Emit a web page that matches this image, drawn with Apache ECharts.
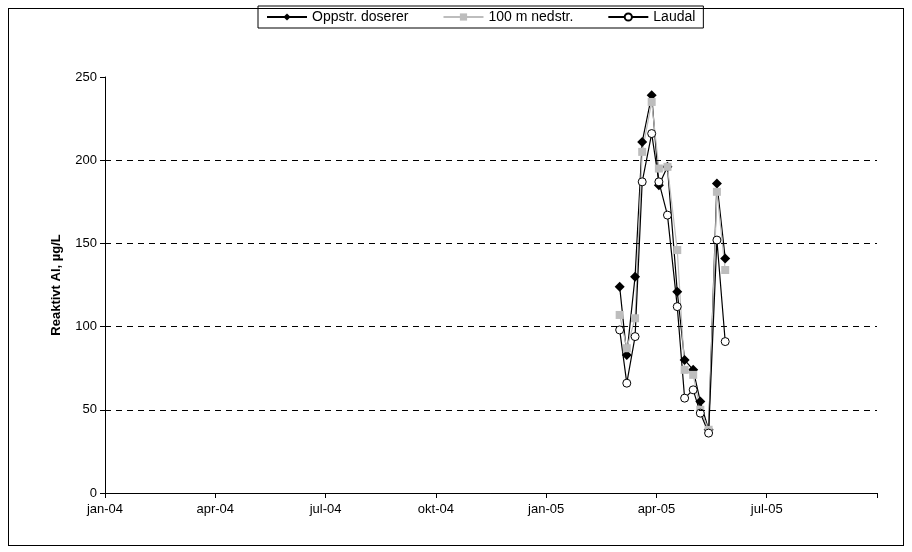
<!DOCTYPE html>
<html>
<head>
<meta charset="utf-8">
<script src="https://cdn.jsdelivr.net/npm/echarts@6/dist/echarts.min.js"></script>
<style>
  html, body { margin: 0; padding: 0; background: #fff; }
  #frame { position: absolute; left: 8px; top: 8px; width: 894px; height: 536px; border: 1px solid #000; }
  #chart { width: 912px; height: 552px; }
</style>
</head>
<body>
<div id="frame"></div>
<div id="chart"></div>
<script>
// prøvedatoer
const dates = ["2005-03-01", "2005-03-07", "2005-03-14", "2005-03-20", "2005-03-28", "2005-04-03",
  "2005-04-10", "2005-04-18", "2005-04-24", "2005-05-01", "2005-05-07", "2005-05-14", "2005-05-21", "2005-05-28"];
const oppstr = [124, 83, 130, 211, 239, 185, 196, 121, 80, 74, 55, 38, 186, 141];
const nedstr = [107, 87, 105, 205, 235, 195, 196, 146, 74, 71, 50, 38, 181, 134];
const laudal = [98, 66, 94, 187, 216, 187, 167, 112, 57, 62, 48, 36, 152, 91];
const tickLabels = ["jan-04", "apr-04", "jul-04", "okt-04", "jan-05", "apr-05", "jul-05", ""];
const gridValues = [50, 100, 150, 200];

// dato -> månedsindeks fra jan-04 (med brøkdel)
function monthPos(s) {
  const [y, m, d] = s.split("-").map(Number);
  const dim = new Date(y, m, 0).getDate();
  return (y - 2004) * 12 + (m - 1) + (d - 1) / dim;
}
const pts = (vals) => dates.map((d, i) => [monthPos(d), vals[i]]);

const chart = echarts.init(document.getElementById("chart"));
const font = "Liberation Sans";
chart.setOption({
  animation: false,
  textStyle: { fontFamily: font },
  legend: {
    top: 6, left: 258,
    itemGap: 34, itemWidth: 40, itemHeight: 9,
    borderColor: "#000", borderWidth: 1, padding: [4, 8],
    textStyle: { fontSize: 14, color: "#000" },
    data: ["Oppstr. doserer", "100 m nedstr.", "Laudal"],
  },
  grid: { left: 105, right: 35, top: 77, bottom: 59 },
  xAxis: {
    type: "value", min: 0, max: 21, interval: 3,
    axisLine: { lineStyle: { color: "#000" } },
    axisTick: { show: true, inside: false, length: 5, lineStyle: { color: "#000" } },
    axisLabel: { color: "#000", fontSize: 13, margin: 10, formatter: (v) => tickLabels[v / 3] },
    splitLine: { show: false },
  },
  yAxis: {
    type: "value", min: 0, max: 250, interval: 50,
    name: "Reaktivt Al, µg/L", nameLocation: "middle", nameGap: 42,
    nameTextStyle: { fontWeight: "bold", fontSize: 13, color: "#000" },
    axisLine: { show: true, lineStyle: { color: "#000" } },
    axisTick: { show: true, length: 5, lineStyle: { color: "#000" } },
    axisLabel: { color: "#000", fontSize: 13 },
    splitLine: { show: false },
  },
  series: [
    {
      name: "Oppstr. doserer", type: "line", data: pts(oppstr),
      symbol: "diamond", symbolSize: 10,
      lineStyle: { color: "#000", width: 1.2 }, itemStyle: { color: "#000" },
      markLine: {
        silent: true, symbol: "none", label: { show: false },
        lineStyle: { color: "#000", type: [6, 5], width: 1 },
        data: gridValues.map((v) => ({ yAxis: v })),
      },
    },
    {
      name: "100 m nedstr.", type: "line", data: pts(nedstr),
      symbol: "rect", symbolSize: 8,
      lineStyle: { color: "#bdbdbd", width: 1.2 }, itemStyle: { color: "#bdbdbd" },
    },
    {
      name: "Laudal", type: "line", data: pts(laudal),
      symbol: "circle", symbolSize: 8,
      lineStyle: { color: "#000", width: 1.2 },
      itemStyle: { color: "#fff", borderColor: "#000", borderWidth: 1 },
    },
  ],
});
</script>
</body>
</html>
